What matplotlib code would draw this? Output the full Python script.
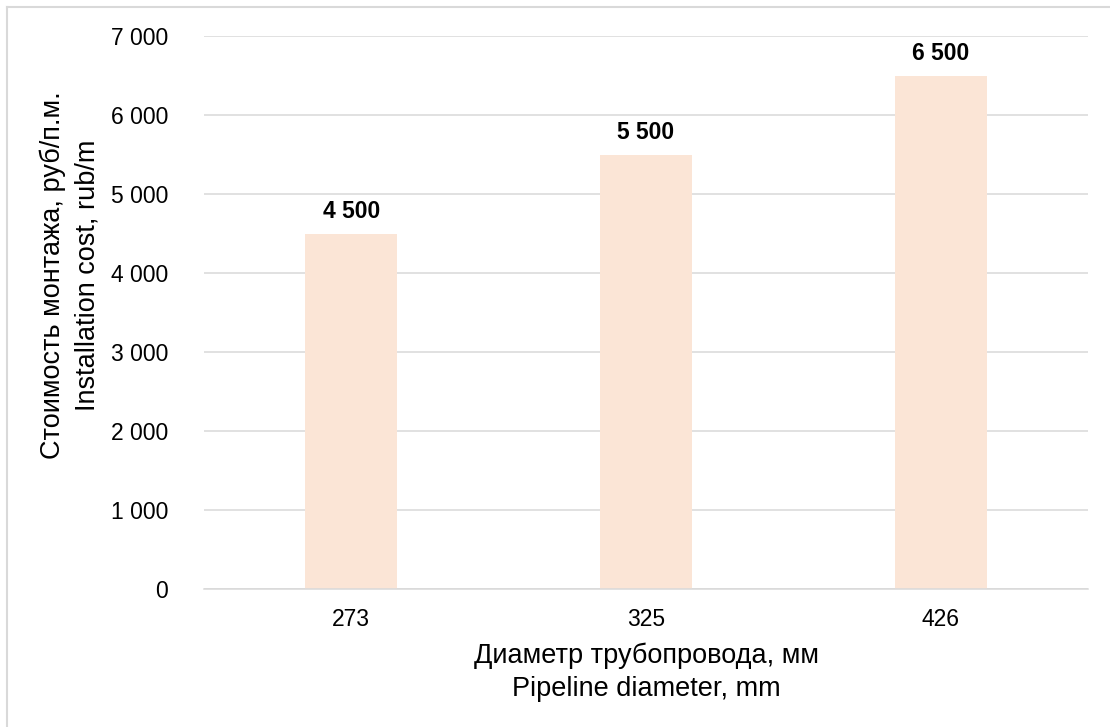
import matplotlib
matplotlib.use("Agg")
import matplotlib.pyplot as plt
from matplotlib.lines import Line2D
from matplotlib.ticker import FuncFormatter

plt.rcParams['font.family'] = ['Liberation Sans', 'DejaVu Sans']

diameters = ["273", "325", "426"]
costs = [4500, 5500, 6500]
y_ticks = [0, 1000, 2000, 3000, 4000, 5000, 6000, 7000]

W, H = 1110, 727
fig = plt.figure(figsize=(W / 100, H / 100), dpi=100)
ax = fig.add_axes([204 / W, 1 - 589 / H, (1088 - 204) / W, (589 - 36) / H])

fs_tick = 16.5
fs_title = 19.5
bar_color = "#FBE5D6"
grid_color = "#D9D9D9"


def thousands(v):
    return f"{int(v):,}".replace(",", " ")


x = range(len(diameters))
ax.bar(x, costs, width=0.313, color=bar_color, zorder=2)

ax.set_xlim(-0.5, len(diameters) - 0.5)
ax.set_ylim(0, 7000)
ax.set_yticks(y_ticks)
ax.yaxis.set_major_formatter(FuncFormatter(lambda v, p: thousands(v)))
ax.set_xticks(list(x))
ax.set_xticklabels(diameters)

ax.grid(axis="y", color=grid_color, linewidth=1.1, zorder=0)
ax.set_axisbelow(True)
for s in ["top", "right", "left"]:
    ax.spines[s].set_visible(False)
ax.spines["bottom"].set_color(grid_color)
ax.spines["bottom"].set_linewidth(1.1)
ax.tick_params(axis="both", length=0, labelsize=fs_tick, colors="black")
ax.tick_params(axis="y", pad=26)
ax.tick_params(axis="x", pad=14)

# value labels above the bars
for xi, v in zip(x, costs):
    ax.annotate(thousands(v), (xi, v), xytext=(0, 15.5),
                textcoords="offset pixels", ha="center", va="baseline",
                fontsize=fs_tick, fontweight="bold")

# axis titles (Russian / English)
fig.text(53 / W, 1 - 275 / H, "Стоимость монтажа, руб/п.м.", rotation=90,
         ha="center", va="center", fontsize=fs_title)
fig.text(88 / W, 1 - 275 / H, "Installation cost, rub/m", rotation=90,
         ha="center", va="center", fontsize=fs_title)
fig.text(646 / W, 1 - 663 / H, "Диаметр трубопровода, мм",
         ha="center", va="baseline", fontsize=fs_title)
fig.text(646 / W, 1 - 696 / H, "Pipeline diameter, mm",
         ha="center", va="baseline", fontsize=fs_title)

# chart frame
fig.add_artist(Line2D([7 / W, 7 / W], [0, 1 - 7 / H], color=grid_color, linewidth=1.5))
fig.add_artist(Line2D([7 / W, 1], [1 - 7 / H, 1 - 7 / H], color=grid_color, linewidth=1.5))

fig.savefig("out.png", dpi=100)
